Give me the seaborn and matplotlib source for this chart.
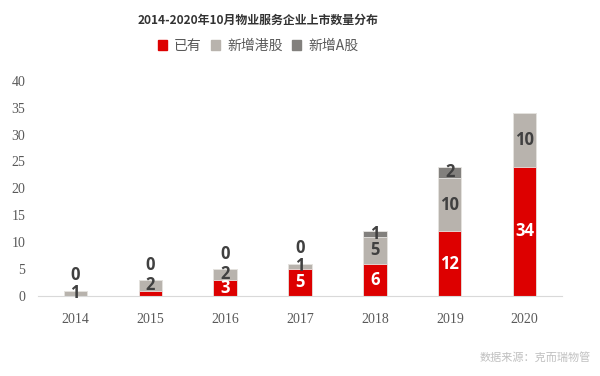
import numpy as np
import pandas as pd
import seaborn as sns
import matplotlib.pyplot as plt
from matplotlib.patches import Patch

# datos
anios = ['2014', '2015', '2016', '2017', '2018', '2019', '2020']
existentes = [0, 1, 3, 5, 6, 12, 24]
nuevos_hk = [1, 2, 2, 1, 5, 10, 10]
nuevos_a = [0, 0, 0, 0, 1, 2, 0]

# etiquetas tal como aparecen en la imagen
etiq_exist = ['', '', '3', '5', '6', '12', '34']
etiq_hk = ['1', '2', '2', '1', '5', '10', '10']
etiq_a = ['0', '0', '0', '0', '1', '2', '']

rojo = '#dd0000'
gris_claro = '#b8b3ad'
gris_osc = '#82807d'

df = pd.DataFrame({'anio': anios, 'exist': existentes, 'hk': nuevos_hk, 'a': nuevos_a})
df['tope_hk'] = df['exist'] + df['hk']
df['total'] = df['tope_hk'] + df['a']

sns.set_style('white')
plt.rcParams['font.family'] = ['Noto Sans CJK SC', 'DejaVu Sans']

fig = plt.figure(figsize=(6, 3.76), dpi=100)
ax = fig.add_axes([0.063, 0.213, 0.874, 0.572])

# barras apiladas: se dibuja de atras hacia adelante
sns.barplot(x='anio', y='total', data=df, color=gris_osc, width=0.31, saturation=1,
            linewidth=0.6, edgecolor='#e8e6e3', ax=ax)
sns.barplot(x='anio', y='tope_hk', data=df, color=gris_claro, width=0.31, saturation=1,
            linewidth=0.6, edgecolor='#e8e6e3', ax=ax)
sns.barplot(x='anio', y='exist', data=df, color=rojo, width=0.31, saturation=1,
            linewidth=0.6, edgecolor='#e8e6e3', ax=ax)

fuente_num = dict(family=['Open Sans', 'DejaVu Sans'], weight='bold', fontsize=12)
for i in range(len(anios)):
    e, t1, t2 = df['exist'][i], df['tope_hk'][i], df['total'][i]
    if etiq_exist[i]:
        ax.text(i, e / 2, etiq_exist[i], ha='center', va='center', color='white', **fuente_num)
    if etiq_hk[i]:
        ax.text(i, (e + t1) / 2, etiq_hk[i], ha='center', va='center', color='#404040', **fuente_num)
    if etiq_a[i]:
        if nuevos_a[i] == 0:
            ax.annotate(etiq_a[i], (i, t2), xytext=(0, 11), textcoords='offset points',
                        ha='center', va='center', color='#404040', **fuente_num)
        else:
            ax.text(i, (t1 + t2) / 2, etiq_a[i], ha='center', va='center', color='#404040', **fuente_num)

ax.set_ylim(0, 40)
ax.set_xlim(-0.5, 6.5)
ax.set_yticks(range(0, 41, 5))
ax.set_xlabel('')
ax.set_ylabel('')
sns.despine(ax=ax, left=True)
ax.spines['bottom'].set_color('#d9d9d9')
ax.tick_params(axis='both', length=0, labelcolor='#595959', labelsize=10)
ax.tick_params(axis='x', pad=12)
ax.tick_params(axis='y', pad=9)
for lbl in ax.get_xticklabels() + ax.get_yticklabels():
    lbl.set_family('Liberation Serif')

fig.text(0.43, 0.945, '2014-2020年10月物业服务企业上市数量分布', ha='center', va='center',
         fontsize=8.6, weight='bold', color='#333333')

handles = [Patch(color=rojo, label='已有'), Patch(color=gris_claro, label='新增港股'),
           Patch(color=gris_osc, label='新增A股')]
leg = fig.legend(handles=handles, loc='center', bbox_to_anchor=(0.43, 0.878), ncol=3, frameon=False,
                 fontsize=10, handlelength=0.65, handleheight=0.65, handletextpad=0.5, columnspacing=0.7)
for t in leg.get_texts():
    t.set_color('#595959')

fig.text(0.985, 0.05, '数据来源：克而瑞物管', ha='right', va='center', fontsize=8, color='#c0c0c0')

plt.savefig('out.png', dpi=100)
